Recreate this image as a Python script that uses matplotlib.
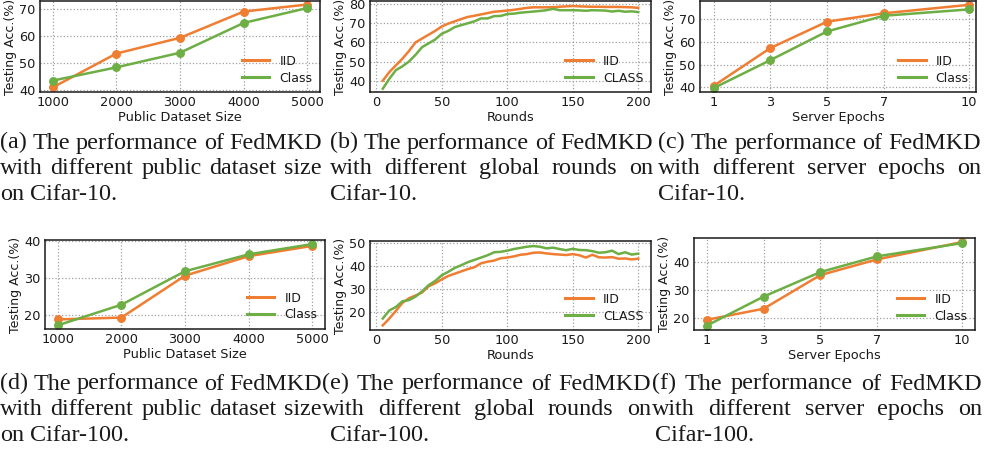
import matplotlib
matplotlib.use("Agg")
import matplotlib.pyplot as plt

plt.rcParams["font.family"] = ["DejaVu Sans"]

W, H = 987, 451

# ---------------- data ----------------
sizes = [1000, 2000, 3000, 4000, 5000]
a_iid = [41.0, 53.5, 59.3, 69.0, 71.6]
a_class = [43.5, 48.4, 53.8, 64.8, 70.3]

rounds = list(range(5, 201, 5))
b_iid = [40, 44.5, 48, 51.5, 55.5, 60, 62, 64, 66, 68.3, 69.8, 71, 72.2, 73.3, 73.9,
         74.6, 75.3, 76, 76.3, 76.6, 77, 77.5, 78, 78.3, 78.3, 78.3, 78.4, 78.6, 78.8, 79,
         78.8, 78.7, 78.6, 78.6, 78.5, 78.5, 78.5, 78.4, 78.3, 78.0]
b_class = [35.8, 41, 45.5, 47.5, 50, 53.5, 57.5, 59.5, 61.5, 64.5, 66, 68, 69, 70, 71,
           72.5, 72.5, 73.7, 73.8, 74.8, 75, 75.5, 75.8, 76.1, 76.4, 76.8, 77.5, 76.8, 76.8, 76.8,
           76.7, 76.5, 76.8, 76.7, 76.6, 76.1, 76.5, 76.0, 76.2, 75.8]

epochs = [1, 3, 5, 7, 10]
c_iid = [40.7, 57.3, 68.9, 72.6, 76.3]
c_class = [39.7, 52.0, 64.6, 71.5, 74.3]

d_iid = [18.7, 19.2, 30.6, 35.9, 38.7]
d_class = [17.1, 22.7, 31.8, 36.4, 39.2]

e_iid = [14, 17, 20.3, 23.8, 25.8, 27, 28.3, 31, 32.3, 34, 35.5, 36.5, 37.5, 38.5, 39.3,
         41, 41.7, 42.2, 43.2, 43.5, 44, 44.7, 45, 45.6, 45.7, 45.3, 45, 44.8, 44.6, 45,
         44.5, 43.5, 44.7, 43.6, 43.5, 43.7, 43, 43.1, 42.7, 43]
e_class = [17, 20.5, 22, 24.5, 25, 26.5, 28.8, 31.5, 33.3, 35.8, 37.3, 39, 40.2, 41.5, 42.5,
           43.5, 44.5, 45.8, 46, 46.5, 47.2, 47.7, 48.2, 48.5, 48.2, 47.5, 47.8, 47.2, 46.7, 47.3,
           46.8, 46.7, 46.3, 45.6, 45.8, 46.5, 45, 45.8, 44.8, 45.2]

f_iid = [19.2, 23.2, 35.4, 41.1, 47.4]
f_class = [17.1, 27.6, 36.5, 42.2, 47.0]

captions = [
    ["(a) The performance of FedMKD", "with different public dataset size", "on Cifar-10."],
    ["(b) The performance of FedMKD", "with different global rounds on", "Cifar-10."],
    ["(c) The performance of FedMKD", "with different server epochs on", "Cifar-10."],
    ["(d) The performance of FedMKD", "with different public dataset size", "on Cifar-100."],
    ["(e) The performance of FedMKD", "with different global rounds on", "Cifar-100."],
    ["(f) The performance of FedMKD", "with different server epochs on", "Cifar-100."],
]

ORANGE = "#EF7D32"
GREEN = "#6DAE45"
INK = "#1a1a1a"

fig = plt.figure(figsize=(W / 100, H / 100), dpi=100)


def add_ax(l, r, t, b):
    return fig.add_axes([l / W, 1 - b / H, (r - l) / W, (b - t) / H])


def style(ax, xlabel, xticks, yticks, ylim, xlim=None):
    ax.set_ylim(*ylim)
    if xlim:
        ax.set_xlim(*xlim)
    ax.set_xticks(xticks)
    ax.set_yticks(yticks)
    ax.grid(True, linestyle=":", color="#a0a0a0", linewidth=0.9)
    ax.set_axisbelow(True)
    ax.tick_params(length=0, labelsize=9.3, pad=3, colors=INK)
    for s in ax.spines.values():
        s.set_color(INK)
        s.set_linewidth(1.1)
    ax.set_xlabel(xlabel, fontsize=9.3, labelpad=1, color=INK)
    ax.set_ylabel("Testing Acc.(%)", fontsize=9.0, labelpad=2, color=INK)


def plot_pair(ax, x, y1, y2, labels, marker):
    kw = dict(lw=1.8, marker="o" if marker else None, ms=5.4)
    ax.plot(x, y1, color=ORANGE, label=labels[0], **kw)
    ax.plot(x, y2, color=GREEN, label=labels[1], **kw)
    leg = ax.legend(loc="lower right", frameon=False, fontsize=9.0, handlelength=2.2,
                    labelspacing=0.3, borderaxespad=0.2, handletextpad=0.8)
    for t in leg.get_texts():
        t.set_color(INK)
    for h in leg.get_lines():
        h.set_marker("")
        h.set_linewidth(2.2)


# (a)
ax = add_ax(40, 320, 1, 92)
plot_pair(ax, sizes, a_iid, a_class, ["IID", "Class"], True)
style(ax, "Public Dataset Size", sizes, [40, 50, 60, 70], (39.3, 72.9))
# (b)
ax = add_ax(370, 651, 1, 92)
plot_pair(ax, rounds, b_iid, b_class, ["IID", "CLASS"], False)
style(ax, "Rounds", [0, 50, 100, 150, 200], [40, 50, 60, 70, 80], (34.1, 81.6))
# (c)
ax = add_ax(700, 976, 1, 92)
plot_pair(ax, epochs, c_iid, c_class, ["IID", "Class"], True)
style(ax, "Server Epochs", epochs, [40, 50, 60, 70], (38, 78), (0.52, 10.26))
# (d)
ax = add_ax(45, 325, 240, 329)
plot_pair(ax, sizes, d_iid, d_class, ["IID", "Class"], True)
style(ax, "Public Dataset Size", sizes, [20, 30, 40], (16.1, 40.3))
# (e)
ax = add_ax(370, 651, 241, 330)
plot_pair(ax, rounds, e_iid, e_class, ["IID", "CLASS"], False)
style(ax, "Rounds", [0, 50, 100, 150, 200], [20, 30, 40, 50], (12, 50.7))
# (f)
ax = add_ax(694, 975, 238, 330)
plot_pair(ax, epochs, f_iid, f_class, ["IID", "Class"], True)
style(ax, "Server Epochs", epochs, [20, 30, 40], (15.5, 48.85))

# ---------------- captions (justified) ----------------
FS = 17.4
renderer = fig.canvas.get_renderer()
space_w = 0.25 * FS * 100 / 72


def draw_line(text, x0, x1, ybase, justify):
    words = text.split(" ")
    ts = [fig.text(0, 0, w, fontsize=FS, family="Liberation Serif",
                   va="baseline", ha="left", color=INK) for w in words]
    widths = [t.get_window_extent(renderer).width for t in ts]
    if justify and len(words) > 1:
        gap = (x1 - x0 - sum(widths)) / (len(words) - 1)
        gap = max(gap, 0.6 * space_w)
    else:
        gap = space_w
    x = x0
    for t, w in zip(ts, widths):
        t.set_position((x / W, 1 - ybase / H))
        x += w + gap


spans_top = [(0, 322), (330, 653), (658, 981)]
spans_bot = [(0, 322), (322, 651), (652, 982)]
third_top = [0, 330, 658]
third_bot = [0, 330, 655]
base_top = [148.5, 174.3, 200.1]
base_bot = [389.5, 415.2, 441.0]

for i in range(3):
    cap = captions[i]
    x0, x1 = spans_top[i]
    draw_line(cap[0], x0, x1, base_top[0], True)
    draw_line(cap[1], x0, x1, base_top[1], True)
    draw_line(cap[2], third_top[i], None, base_top[2], False)
for i in range(3):
    cap = captions[3 + i]
    x0, x1 = spans_bot[i]
    draw_line(cap[0], x0, x1, base_bot[0], True)
    draw_line(cap[1], x0, x1, base_bot[1], True)
    draw_line(cap[2], third_bot[i], None, base_bot[2], False)

fig.savefig("out.png", dpi=100)
